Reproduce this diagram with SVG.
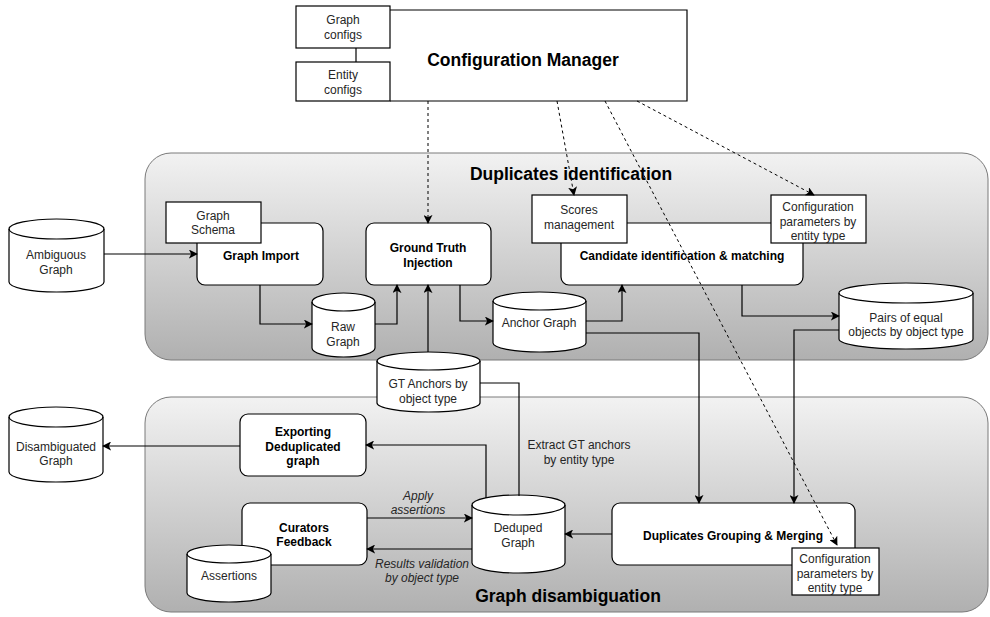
<svg xmlns="http://www.w3.org/2000/svg" width="990" height="617" viewBox="0 0 990 617">
  <defs>
    <linearGradient id="panelFill" x1="0" y1="0" x2="0" y2="1">
      <stop offset="0" stop-color="#f2f2f2"/>
      <stop offset="1" stop-color="#b0b0b0"/>
    </linearGradient>
    <marker id="arrow" viewBox="0 0 10 10" refX="9" refY="5" markerWidth="9" markerHeight="9" markerUnits="userSpaceOnUse" orient="auto">
      <path d="M0,0 L10,5 L0,10 L2.5,5 Z" fill="#000"/>
    </marker>
    <style>
      .panel { fill: url(#panelFill); stroke: #7a7a7a; stroke-width: 1; }
      .box { fill: #fff; stroke: #000; stroke-width: 1.2; }
      .cyl { fill: #fff; stroke: #000; stroke-width: 1.2; }
      .txt { font-family: "Liberation Sans", Arial, sans-serif; font-size: 12px; fill: #262626; text-anchor: middle; }
      .bold { font-weight: bold; fill: #000; }
      .ital { font-style: italic; }
      .title { font-family: "Liberation Sans", Arial, sans-serif; font-size: 17.5px; font-weight: bold; fill: #000; text-anchor: middle; }
      .edge { fill: none; stroke: #000; stroke-width: 1.2; }
      .dash { fill: none; stroke: #000; stroke-width: 1; stroke-dasharray: 3 3; }
    </style>
  </defs>

  <!-- containers -->
  <g id="duplicates-identification">
    <rect class="panel" x="145" y="153" width="843" height="207" rx="26"/>
    <text class="title" x="571" y="180">Duplicates identification</text>
  </g>
  <g id="graph-disambiguation">
    <rect class="panel" x="145" y="397" width="843" height="215" rx="26"/>
    <text class="title" x="568" y="602">Graph disambiguation</text>
  </g>

  <!-- configuration manager (left side is covered by the two config boxes) -->
  <g id="configuration-manager">
    <rect x="390" y="10" width="297" height="91" fill="#fff"/>
    <path class="edge" d="M390,10 H687 V101 H390"/>
    <text class="title" x="523" y="66">Configuration Manager</text>
  </g>
  <g id="graph-configs">
    <rect class="box" x="296" y="6" width="94" height="42"/>
    <text class="txt" x="343" y="24">Graph</text>
    <text class="txt" x="343" y="39">configs</text>
  </g>
  <g id="entity-configs">
    <rect class="box" x="296" y="62" width="94" height="39"/>
    <text class="txt" x="343" y="79">Entity</text>
    <text class="txt" x="343" y="94">configs</text>
  </g>

  <!-- duplicates identification nodes -->
  <g id="ambiguous-graph">
    <path class="cyl" d="M9,229 A47.5,10 0 0 1 104,229 V282 A47.5,10 0 0 1 9,282 Z"/>
    <path class="edge" d="M9,229 A47.5,10 0 0 0 104,229"/>
    <text class="txt" x="56" y="259">Ambiguous</text>
    <text class="txt" x="56" y="274">Graph</text>
  </g>
  <g id="graph-import">
    <rect class="box" x="197" y="223" width="126" height="62" rx="8"/>
    <text class="txt bold" x="261" y="260">Graph Import</text>
  </g>
  <g id="graph-schema">
    <rect class="box" x="166" y="202" width="95" height="41"/>
    <text class="txt" x="213" y="220">Graph</text>
    <text class="txt" x="213" y="234">Schema</text>
  </g>
  <g id="raw-graph">
    <path class="cyl" d="M312,302 A31.5,9 0 0 1 375,302 V348 A31.5,9 0 0 1 312,348 Z"/>
    <path class="edge" d="M312,302 A31.5,9 0 0 0 375,302"/>
    <text class="txt" x="343" y="331">Raw</text>
    <text class="txt" x="343" y="346">Graph</text>
  </g>
  <g id="ground-truth-injection">
    <rect class="box" x="366" y="223" width="125" height="62" rx="8"/>
    <text class="txt bold" x="428" y="252">Ground Truth</text>
    <text class="txt bold" x="428" y="267">Injection</text>
  </g>
  <g id="anchor-graph">
    <path class="cyl" d="M493,301 A46.5,9 0 0 1 586,301 V343 A46.5,9 0 0 1 493,343 Z"/>
    <path class="edge" d="M493,301 A46.5,9 0 0 0 586,301"/>
    <text class="txt" x="539" y="327">Anchor Graph</text>
  </g>
  <g id="candidate-matching">
    <rect class="box" x="561" y="223" width="242" height="62" rx="8"/>
    <text class="txt bold" x="682" y="260">Candidate identification &amp; matching</text>
  </g>
  <g id="scores-management">
    <rect class="box" x="532" y="195" width="95" height="48"/>
    <text class="txt" x="579" y="214">Scores</text>
    <text class="txt" x="579" y="229">management</text>
  </g>
  <g id="config-params-matching">
    <rect class="box" x="771" y="195" width="95" height="48"/>
    <text class="txt" x="818" y="211">Configuration</text>
    <text class="txt" x="818" y="226">parameters by</text>
    <text class="txt" x="818" y="240">entity type</text>
  </g>
  <g id="pairs-of-equal-objects">
    <path class="cyl" d="M839,293 A67,10 0 0 1 973,293 V339 A67,10 0 0 1 839,339 Z"/>
    <path class="edge" d="M839,293 A67,10 0 0 0 973,293"/>
    <text class="txt" x="906" y="322">Pairs of equal</text>
    <text class="txt" x="906" y="336">objects by object type</text>
  </g>
  <g id="gt-anchors">
    <path class="cyl" d="M377,361 A51.5,9 0 0 1 480,361 V403 A51.5,9 0 0 1 377,403 Z"/>
    <path class="edge" d="M377,361 A51.5,9 0 0 0 480,361"/>
    <text class="txt" x="428" y="388">GT Anchors by</text>
    <text class="txt" x="428" y="403">object type</text>
  </g>

  <!-- graph disambiguation nodes -->
  <g id="disambiguated-graph">
    <path class="cyl" d="M9,417 A47,10 0 0 1 103,417 V472 A47,10 0 0 1 9,472 Z"/>
    <path class="edge" d="M9,417 A47,10 0 0 0 103,417"/>
    <text class="txt" x="56" y="451">Disambiguated</text>
    <text class="txt" x="56" y="465">Graph</text>
  </g>
  <g id="exporting-deduplicated">
    <rect class="box" x="240" y="414" width="126" height="62" rx="8"/>
    <text class="txt bold" x="303" y="436">Exporting</text>
    <text class="txt bold" x="303" y="451">Deduplicated</text>
    <text class="txt bold" x="303" y="465">graph</text>
  </g>
  <g id="curators-feedback">
    <rect class="box" x="242" y="503" width="125" height="62" rx="8"/>
    <text class="txt bold" x="304" y="532">Curators</text>
    <text class="txt bold" x="304" y="546">Feedback</text>
  </g>
  <g id="assertions">
    <path class="cyl" d="M187,554 A42,9 0 0 1 271,554 V593 A42,9 0 0 1 187,593 Z"/>
    <path class="edge" d="M187,554 A42,9 0 0 0 271,554"/>
    <text class="txt" x="229" y="580">Assertions</text>
  </g>
  <g id="deduped-graph">
    <path class="cyl" d="M472,505 A46.5,10 0 0 1 565,505 V563 A46.5,10 0 0 1 472,563 Z"/>
    <path class="edge" d="M472,505 A46.5,10 0 0 0 565,505"/>
    <text class="txt" x="518" y="532">Deduped</text>
    <text class="txt" x="518" y="547">Graph</text>
  </g>
  <g id="duplicates-grouping-merging">
    <rect class="box" x="612" y="503" width="243" height="62" rx="8"/>
    <text class="txt bold" x="733" y="540">Duplicates Grouping &amp; Merging</text>
  </g>
  <g id="config-params-merging">
    <rect class="box" x="792" y="548" width="87" height="47"/>
    <text class="txt" x="835" y="563">Configuration</text>
    <text class="txt" x="835" y="578">parameters by</text>
    <text class="txt" x="835" y="592">entity type</text>
  </g>

  <!-- connectors -->
  <g id="connectors">
    <path class="edge" d="M356,48 V62"/>
    <path class="edge" d="M104,254 H197" marker-end="url(#arrow)"/>
    <path class="edge" d="M260,285 V324 H312" marker-end="url(#arrow)"/>
    <path class="edge" d="M375,324 H397 V285" marker-end="url(#arrow)"/>
    <path class="edge" d="M428,352 V285" marker-end="url(#arrow)"/>
    <path class="edge" d="M460,285 V321 H493" marker-end="url(#arrow)"/>
    <path class="edge" d="M586,321 H622 V285" marker-end="url(#arrow)"/>
    <path class="edge" d="M742,285 V316 H839" marker-end="url(#arrow)"/>
    <path class="edge" d="M586,333 H699 V503" marker-end="url(#arrow)"/>
    <path class="edge" d="M839,330 H794 V503" marker-end="url(#arrow)"/>
    <path class="edge" d="M519,496 V383 H480"/>
    <path class="edge" d="M486,498 V445 H366" marker-end="url(#arrow)"/>
    <path class="edge" d="M240,446 H103" marker-end="url(#arrow)"/>
    <path class="edge" d="M367,518 H472" marker-end="url(#arrow)"/>
    <path class="edge" d="M472,549 H367" marker-end="url(#arrow)"/>
    <path class="edge" d="M612,534 H565" marker-end="url(#arrow)"/>

    <path class="dash" d="M428,101 V223" marker-end="url(#arrow)"/>
    <path class="dash" d="M557,101 L574,195" marker-end="url(#arrow)"/>
    <path class="dash" d="M605,101 L837,545" marker-end="url(#arrow)"/>
    <path class="dash" d="M637,101 L814,195" marker-end="url(#arrow)"/>

    <text class="txt" x="579" y="449">Extract GT anchors</text>
    <text class="txt" x="579" y="464">by entity type</text>
    <text class="txt ital" x="418" y="500">Apply</text>
    <text class="txt ital" x="418" y="514">assertions</text>
    <text class="txt ital" x="422" y="568">Results validation</text>
    <text class="txt ital" x="422" y="582">by object type</text>
  </g>
</svg>
